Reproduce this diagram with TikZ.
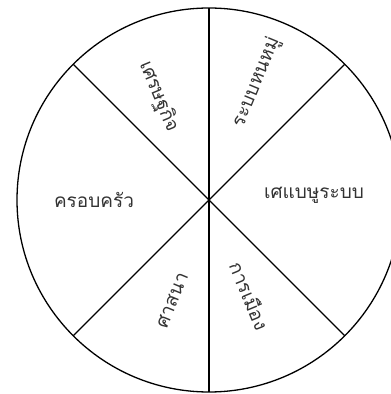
\documentclass[tikz,border=0pt]{standalone}
\usepackage{fontspec}
\usetikzlibrary{calc}
\newfontfamily\thaifont[Script=Thai]{Loma}
\tikzset{
  wheel/.style={line width=1.3pt, black},
  spoke/.style={line width=1.2pt, black},
  lbl/.style={font=\thaifont\fontsize{19}{22}\selectfont, inner sep=0pt, text=black!80}
}
\begin{document}
\begin{tikzpicture}[x=1pt,y=1pt]
\useasboundingbox (0,0) rectangle (391,394);
\clip (0,0) rectangle (391,394);
\coordinate (c) at (209,194);
\coordinate (p45) at ($(c)+(45:192)$);
\coordinate (p90) at ($(c)+(90:192)$);
\coordinate (p135) at ($(c)+(135:192)$);
\coordinate (p225) at ($(c)+(225:192)$);
\coordinate (p270) at ($(c)+(270:192)$);
\coordinate (p315) at ($(c)+(315:192)$);
\draw[wheel] (c) circle (192);
\draw[spoke] (p90) -- (p270);
\draw[spoke] (p135) -- (p315);
\draw[spoke] (p45) -- (p225);
\node[lbl, rotate=-67.5] (econ) at ($(c)+(116:115)$) {เศรษฐกิจ};
\node[lbl, rotate=67.5] (sys) at ($(c)+(68:127)$) {ระบบหนหมู่};
\node[lbl] (fam) at ($(c)+(180:115)$) {ครอบครัว};
\node[lbl] (right) at ($(c)+(105,5)$) {เศแบษูระบบ};
\node[lbl, rotate=67.5] (rel) at ($(c)+(250:107)$) {ศาสนา};
\node[lbl, rotate=-67.5] (pol) at ($(c)+(-67:104)$) {การเมือง};
\end{tikzpicture}
\end{document}
